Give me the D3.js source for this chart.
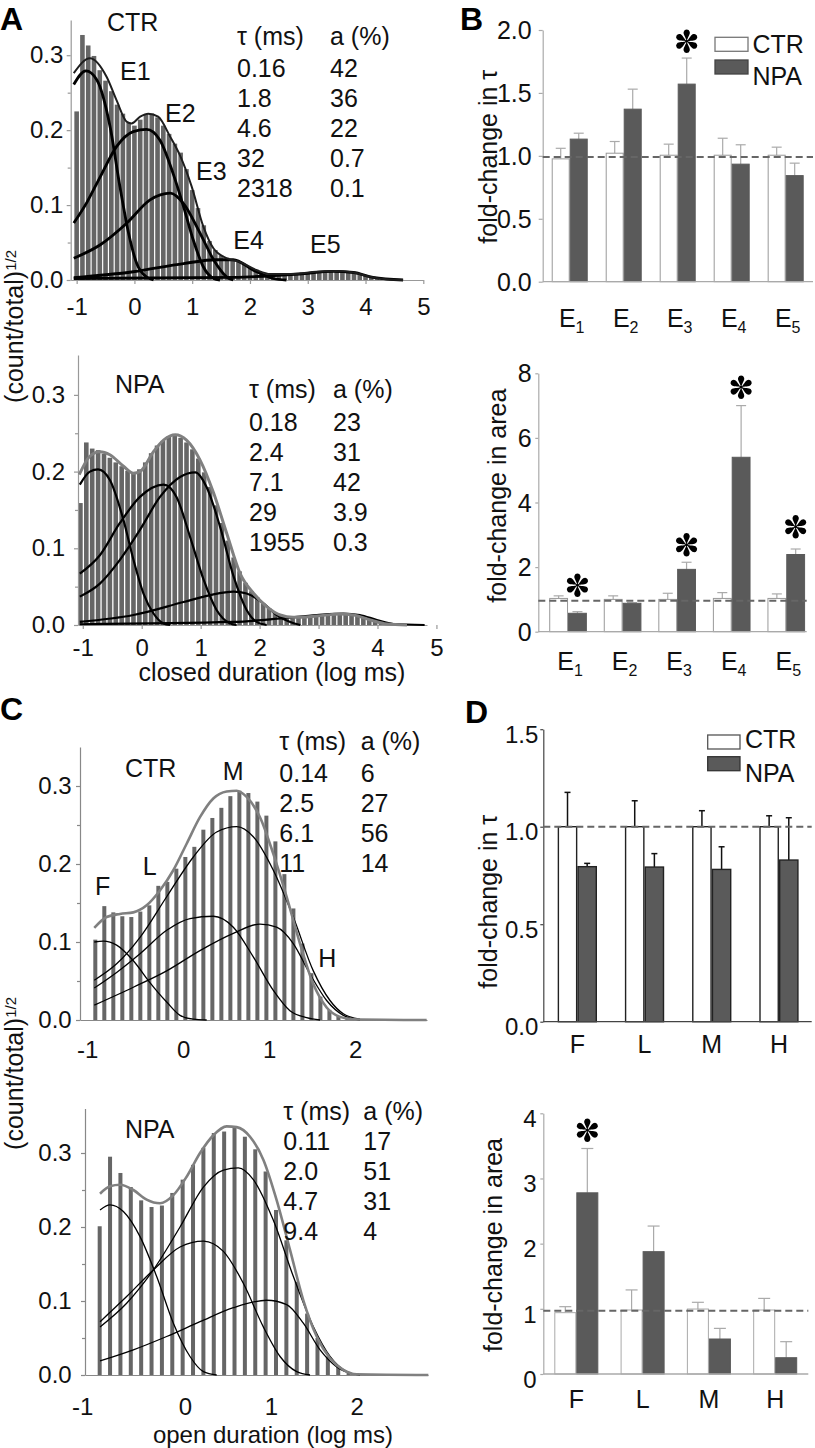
<!DOCTYPE html>
<html><head><meta charset="utf-8">
<script src="https://cdn.jsdelivr.net/npm/d3@7/dist/d3.min.js"></script>
<style>
html,body{margin:0;padding:0;background:#fff;}
svg{display:block;}
svg text{font-family:"Liberation Sans",Arial,Helvetica,sans-serif;fill:#111;}
</style></head>
<body><svg id="fig" width="815" height="1448" viewBox="0 0 815 1448"></svg>
<script>
// ======================= DATA =======================
// ---- Panel A: closed-duration histograms, sqrt(count/total) per bin ----
const A_CTR_BIN_START = -1.0, A_CTR_BIN_WIDTH = 0.1;
const A_CTR_BARS = [0.225,0.327,0.313,0.299,0.280,0.266,0.252,0.234,0.222,0.210,
  0.206,0.214,0.221,0.222,0.217,0.206,0.195,0.182,0.170,0.148,
  0.120,0.096,0.073,0.052,0.040,0.033,0.030,0.028,0.025,0.021,
  0.017,0.013,0.010,0.008,0.007,0.007,0.008,0.008,0.009,0.010,
  0.010,0.011,0.011,0.012,0.012,0.012,0.011,0.011,0.009,0.008,
  0.006,0.004,0.003,0.002,0.001,0.001];
const A_CTR_TOTAL = [[-1.05,0.276],[-0.77,0.296],[-0.48,0.271],[-0.31,0.24],[-0.13,0.211],[-0.05,0.209],[0.1,0.218],[0.24,0.222],[0.41,0.218],[0.62,0.191],[0.79,0.166],[0.99,0.125],[1.19,0.072],[1.37,0.042],[1.6,0.029],[1.83,0.024],[2.12,0.013],[2.35,0.008],[2.75,0.008],[3.15,0.011],[3.5,0.012],[3.79,0.01],[4.07,0.0045],[4.36,0.001],[4.65,0]];
const A_CTR_E1 = [[-1.05,0.261],[-0.84,0.279],[-0.65,0.267],[-0.42,0.204],[-0.25,0.124],[-0.10,0.062],[0.04,0.022],[0.21,0.004],[0.33,0]];
const A_CTR_E2 = [[-1.05,0.076],[-0.82,0.104],[-0.59,0.138],[-0.31,0.178],[-0.02,0.198],[0.21,0.201],[0.44,0.187],[0.67,0.142],[0.85,0.098],[1.02,0.053],[1.19,0.018],[1.37,0.002],[1.48,0]];
const A_CTR_E3 = [[-1.05,0.029],[-0.59,0.047],[-0.13,0.076],[0.27,0.107],[0.62,0.116],[0.85,0.102],[1.14,0.062],[1.37,0.027],[1.6,0.004],[1.71,0]];
const A_CTR_E4 = [[-1.05,0.003],[-0.02,0.011],[0.85,0.022],[1.42,0.027],[1.71,0.027],[2.06,0.013],[2.4,0.002],[2.63,0]];
const A_CTR_E5 = [[-1.05,0.002],[1.71,0.0035],[2.86,0.008],[3.44,0.0115],[3.79,0.01],[4.13,0.0035],[4.65,0]];
const A_CTR_TAU = ["0.16","1.8","4.6","32","2318"];
const A_CTR_AREA = ["42","36","22","0.7","0.1"];

const A_NPA_BIN_START = -1.04, A_NPA_BIN_WIDTH = 0.1;
const A_NPA_BARS = [0.159,0.238,0.230,0.228,0.223,0.218,0.212,0.207,0.201,0.198,
  0.203,0.212,0.224,0.234,0.240,0.246,0.247,0.244,0.238,0.229,
  0.217,0.199,0.180,0.156,0.133,0.110,0.088,0.070,0.055,0.044,
  0.036,0.028,0.022,0.017,0.013,0.011,0.010,0.010,0.011,0.011,
  0.012,0.012,0.013,0.013,0.014,0.014,0.013,0.012,0.010,0.008,
  0.006,0.004,0.002,0.001];
const A_NPA_TOTAL = [[-1.06,0.196],[-0.88,0.22],[-0.71,0.226],[-0.54,0.222],[-0.31,0.207],[-0.14,0.198],[-0.03,0.2],[0.2,0.226],[0.37,0.241],[0.57,0.248],[0.76,0.241],[0.99,0.215],[1.22,0.172],[1.44,0.12],[1.67,0.067],[1.9,0.041],[2.12,0.024],[2.35,0.013],[2.57,0.01],[2.97,0.0117],[3.37,0.0143],[3.59,0.013],[3.88,0.0065],[4.16,0.0013],[4.5,0]];
const A_NPA_E1 = [[-1.05,0.183],[-0.88,0.2],[-0.74,0.203],[-0.54,0.189],[-0.31,0.137],[-0.14,0.085],[0.03,0.041],[0.2,0.015],[0.37,0.002],[0.48,0]];
const A_NPA_E2 = [[-1.05,0.067],[-0.71,0.091],[-0.37,0.133],[-0.03,0.167],[0.37,0.183],[0.59,0.167],[0.82,0.115],[1.05,0.059],[1.27,0.0196],[1.5,0.002],[1.61,0]];
const A_NPA_E3 = [[-1.05,0.037],[-0.71,0.054],[-0.37,0.085],[-0.03,0.124],[0.31,0.167],[0.65,0.193],[0.91,0.199],[1.1,0.18],[1.33,0.128],[1.56,0.063],[1.78,0.0196],[1.95,0.004],[2.12,0]];
const A_NPA_E4 = [[-1.05,0.004],[-0.14,0.013],[0.71,0.03],[1.16,0.039],[1.56,0.0435],[1.78,0.041],[2.07,0.028],[2.29,0.013],[2.52,0.004],[2.69,0]];
const A_NPA_E5 = [[-1.05,0.001],[1.56,0.004],[2.4,0.009],[2.97,0.013],[3.42,0.015],[3.7,0.013],[3.99,0.0065],[4.27,0.0013],[4.8,0]];
const A_NPA_TAU = ["0.18","2.4","7.1","29","1955"];
const A_NPA_AREA = ["23","31","42","3.9","0.3"];

// ---- Panel C: open-duration histograms ----
const C_CTR_BIN_START = -1.023, C_CTR_BIN_WIDTH = 0.1047;
const C_CTR_BARS = [0.103,0.146,0.138,0.133,0.132,0.139,0.147,0.172,0.177,0.194,
  0.209,0.222,0.244,0.259,0.272,0.287,0.294,0.291,0.280,0.262,
  0.229,0.187,0.143,0.098,0.060,0.030,0.013,0.005,0.002];
const C_CTR_TOTAL = [[-1.035,0.118],[-0.891,0.132],[-0.736,0.136],[-0.581,0.138],[-0.426,0.147],[-0.272,0.166],[-0.116,0.192],[0.039,0.226],[0.194,0.26],[0.349,0.284],[0.504,0.293],[0.621,0.294],[0.737,0.286],[0.892,0.26],[1.047,0.213],[1.202,0.158],[1.357,0.098],[1.512,0.046],[1.667,0.016],[1.822,0.004],[1.977,0.001],[2.83,0]];
const C_CTR_F = [[-1.035,0.1],[-0.93,0.101],[-0.775,0.096],[-0.581,0.076],[-0.388,0.048],[-0.193,0.023],[-0.038,0.006],[0.117,0.001],[0.272,0]];
const C_CTR_L = [[-1.035,0.041],[-0.775,0.061],[-0.503,0.085],[-0.193,0.115],[0.078,0.13],[0.349,0.133],[0.582,0.119],[0.814,0.081],[1.047,0.038],[1.24,0.012],[1.434,0.003],[1.59,0]];
const C_CTR_M = [[-1.035,0.051],[-0.775,0.072],[-0.503,0.106],[-0.193,0.158],[0.117,0.209],[0.388,0.241],[0.621,0.248],[0.814,0.235],[1.047,0.192],[1.279,0.132],[1.512,0.063],[1.706,0.025],[1.861,0.008],[2.055,0.001]];
const C_CTR_H = [[-1.035,0.019],[-0.581,0.042],[-0.193,0.063],[0.194,0.089],[0.582,0.111],[0.892,0.123],[1.085,0.119],[1.279,0.098],[1.473,0.059],[1.667,0.025],[1.861,0.006],[2.055,0]];
const C_CTR_TAU = ["0.14","2.5","6.1","11"];
const C_CTR_AREA = ["6","27","56","14"];

const C_NPA_BIN_START = -0.994, C_NPA_BIN_WIDTH = 0.1208;
const C_NPA_BARS = [0.201,0.295,0.273,0.254,0.236,0.227,0.229,0.246,0.264,0.284,
  0.307,0.327,0.329,0.336,0.322,0.305,0.275,0.223,0.182,0.126,
  0.083,0.050,0.025,0.011,0.0045];
const C_NPA_TOTAL = [[-0.99,0.245],[-0.874,0.255],[-0.757,0.257],[-0.602,0.25],[-0.447,0.237],[-0.291,0.232],[-0.136,0.243],[0.019,0.268],[0.175,0.3],[0.33,0.324],[0.485,0.336],[0.602,0.335],[0.757,0.322],[0.912,0.291],[1.068,0.236],[1.223,0.169],[1.378,0.101],[1.534,0.052],[1.689,0.0225],[1.844,0.007],[2.0,0.001],[2.834,0]];
const C_NPA_F = [[-0.99,0.223],[-0.874,0.23],[-0.718,0.221],[-0.524,0.187],[-0.33,0.133],[-0.136,0.07],[0.058,0.025],[0.214,0.0045],[0.369,0]];
const C_NPA_L = [[-0.99,0.072],[-0.68,0.106],[-0.369,0.142],[-0.058,0.173],[0.214,0.181],[0.447,0.167],[0.679,0.124],[0.912,0.065],[1.107,0.025],[1.301,0.0045],[1.456,0]];
const C_NPA_M = [[-0.99,0.065],[-0.68,0.097],[-0.369,0.142],[-0.058,0.2],[0.214,0.254],[0.447,0.277],[0.621,0.28],[0.796,0.264],[1.029,0.209],[1.262,0.133],[1.495,0.065],[1.689,0.025],[1.883,0.0045],[2.038,0]];
const C_NPA_H = [[-0.99,0.019],[-0.602,0.034],[-0.214,0.052],[0.175,0.072],[0.563,0.091],[0.951,0.101],[1.184,0.095],[1.378,0.07],[1.573,0.034],[1.767,0.011],[1.961,0.001]];
const C_NPA_TAU = ["0.11","2.0","4.7","9.4"];
const C_NPA_AREA = ["17","51","31","4"];

// ---- Panel B: fold changes of closed components ----
const GROUPS = ["CTR","NPA"];
const B_CATS = ["1","2","3","4","5"];               // E subscripts
const B_TAU_CTR     = [0.976,1.021,1.005,1.005,1.005];
const B_TAU_CTR_ERR = [0.084,0.093,0.088,0.135,0.064];
const B_TAU_NPA     = [1.133,1.371,1.570,0.934,0.843];
const B_TAU_NPA_ERR = [0.047,0.159,0.207,0.154,0.099];
const B_TAU_REF = 0.99;
const B_TAU_STARS = [["3",1.91]];
const B_TAU_TICKS = [0,0.5,1.0,1.5,2.0];

const B_AREA_CTR     = [1.03,1.00,1.00,1.03,1.03];
const B_AREA_CTR_ERR = [0.08,0.11,0.19,0.18,0.14];
const B_AREA_NPA     = [0.57,0.88,1.93,5.40,2.39];
const B_AREA_NPA_ERR = [0.05,0.02,0.22,1.60,0.17];
const B_AREA_REF = 0.96;
const B_AREA_STARS = [["1",1.44],["3",2.69],["4",7.57],["5",3.25]];
const B_AREA_TICKS = [0,2,4,6,8];

// ---- Panel D: fold changes of open components ----
const D_CATS = ["F","L","M","H"];
const D_TAU_CTR     = [1.0,1.0,1.0,1.0];
const D_TAU_CTR_ERR = [0.176,0.133,0.082,0.056];
const D_TAU_NPA     = [0.795,0.793,0.781,0.829];
const D_TAU_NPA_ERR = [0.017,0.069,0.116,0.217];
const D_TAU_REF = 1.0;
const D_TAU_TICKS = [0,0.5,1.0,1.5];

const D_AREA_CTR     = [0.941,0.982,0.997,0.982];
const D_AREA_CTR_ERR = [0.092,0.308,0.103,0.178];
const D_AREA_NPA     = [2.78,1.877,0.537,0.25];
const D_AREA_NPA_ERR = [0.68,0.393,0.163,0.246];
const D_AREA_REF = 0.972;
const D_AREA_STARS = [["F",3.74]];
const D_AREA_TICKS = [0,1,2,3,4];

// ======================= DRAWING =======================
const svg = d3.select("#fig");
const DARK = "#5a5a5a";

function txt(g, x, y, s, o = {}) {
  const t = g.append("text").attr("x", x).attr("y", y)
    .attr("font-size", o.size || 25).attr("text-anchor", o.anchor || "start").text(s);
  if (o.weight) t.attr("font-weight", o.weight);
  return t;
}

function styleAxis(sel, color, size) {
  sel.attr("font-family", null).attr("font-size", null);
  sel.select(".domain").attr("stroke", color).attr("stroke-width", 1.2);
  sel.selectAll(".tick line").attr("stroke", color).attr("stroke-width", 1.2);
  sel.selectAll(".tick text").attr("font-size", size).attr("fill", "#111");
}

function star(g, cx, cy, r) {
  const p = `M0,0 C${-r*0.06},${-r*0.3} ${-r*0.36},${-r*0.66} ${-r*0.27},${-r*0.86} A${r*0.28},${r*0.28} 0 0 1 ${r*0.27},${-r*0.86} C${r*0.36},${-r*0.66} ${r*0.06},${-r*0.3} 0,0Z`;
  d3.range(6).forEach(i => g.append("path").attr("d", p).attr("fill", "#000")
    .attr("transform", `translate(${cx},${cy}) rotate(${i * 60})`));
  g.append("circle").attr("cx", cx).attr("cy", cy).attr("r", r * 0.13).attr("fill", "#000");
}

function histPanel(p) {
  const x = d3.scaleLinear().domain(p.xDomain).range(p.xRange);
  const y = d3.scaleLinear().domain(p.yDomain).range(p.yRange);
  const g = svg.append("g");
  g.selectAll("rect.bin").data(p.bars).join("rect").attr("class", "bin")
    .attr("x", (d, i) => x(p.binStart + i * p.binWidth) - p.barW / 2)
    .attr("width", p.barW)
    .attr("y", d => y(d)).attr("height", d => y(0) - y(d))
    .attr("fill", p.barColor);
  const ya = g.append("g").attr("transform", `translate(${p.xRange[0]},0)`)
    .call(d3.axisLeft(y).tickValues([0, 0.1, 0.2, 0.3]).tickFormat(d3.format(".1f"))
      .tickSize(4).tickPadding(p.yPad).tickSizeOuter(0));
  styleAxis(ya, p.axisColor, 24);
  const ym = g.append("g").attr("transform", `translate(${p.xRange[0]},0)`)
    .call(d3.axisLeft(y).tickValues([0.05, 0.15, 0.25]).tickFormat("").tickSize(3).tickSizeOuter(0));
  styleAxis(ym, p.axisColor, 24);
  ym.select(".domain").remove();
  const xa = g.append("g").attr("transform", `translate(0,${y(0)})`)
    .call(d3.axisBottom(x).tickValues(p.xTicks).tickFormat(d3.format("d")).tickSize(p.xTickLen).tickSizeOuter(0));
  styleAxis(xa, p.axisColor, 24);
  xa.selectAll(".tick text").attr("y", p.xLabOff).attr("dy", 0)
    .attr("dx", d => d === -1 ? p.minusDx : 0).text(d => d < 0 ? "-" + Math.abs(d) : d);
  const line = d3.line().x(d => x(d[0])).y(d => y(d[1])).curve(d3.curveMonotoneX);
  p.comps.forEach(c => g.append("path").attr("d", line(c)).attr("fill", "none")
    .attr("stroke", p.compColor).attr("stroke-width", p.compW).attr("stroke-linejoin", "round"));
  g.append("path").attr("d", line(p.total)).attr("fill", "none")
    .attr("stroke", p.totalColor).attr("stroke-width", p.totalW);
  return g;
}

function table(g, xs, y0, rows, tau, area) {
  txt(g, xs[0], y0, "τ (ms)");
  txt(g, xs[1], y0, "a (%)");
  tau.forEach((t, i) => { txt(g, xs[0], rows[i], t); txt(g, xs[1], rows[i], area[i]); });
}

function barPanel(p) {
  const x0 = d3.scaleBand().domain(p.cats).range(p.xRange).paddingInner(p.padIn).paddingOuter(p.padOut);
  const x1 = d3.scaleBand().domain(GROUPS).range([0, x0.bandwidth()]);
  const y = d3.scaleLinear().domain(p.yDomain).range(p.yRange);
  const g = svg.append("g");
  const rows = [];
  p.cats.forEach((c, i) => {
    rows.push({ c, s: "CTR", v: p.ctr[i], e: p.ctrErr[i] });
    rows.push({ c, s: "NPA", v: p.npa[i], e: p.npaErr[i] });
  });
  const cx = d => x0(d.c) + x1(d.s) + x1.bandwidth() / 2;
  g.selectAll("line.err").data(rows).join("line").attr("class", "err")
    .attr("x1", cx).attr("x2", cx).attr("y1", d => y(d.v)).attr("y2", d => y(d.v + d.e))
    .attr("stroke", p.errColor).attr("stroke-width", p.errW);
  g.selectAll("line.cap").data(rows).join("line").attr("class", "cap")
    .attr("x1", d => cx(d) - p.cap).attr("x2", d => cx(d) + p.cap)
    .attr("y1", d => y(d.v + d.e)).attr("y2", d => y(d.v + d.e))
    .attr("stroke", p.errColor).attr("stroke-width", p.errW);
  g.selectAll("rect.bar").data(rows).join("rect").attr("class", "bar")
    .attr("x", d => x0(d.c) + x1(d.s) + p.inset).attr("width", x1.bandwidth() - 2 * p.inset)
    .attr("y", d => y(d.v)).attr("height", d => y(0) - y(d.v))
    .attr("fill", d => d.s === "CTR" ? "#fff" : DARK)
    .attr("stroke", d => d.s === "CTR" ? p.ctrStroke : p.npaStroke)
    .attr("stroke-width", p.barSW);
  const ya = g.append("g").attr("transform", `translate(${p.axisX[0]},0)`)
    .call(d3.axisLeft(y).tickValues(p.ticks).tickFormat(d3.format(p.fmt))
      .tickSize(p.tickLen).tickPadding(p.yPad).tickSizeOuter(0));
  styleAxis(ya, p.axisColor, p.tickFont);
  ya.selectAll(".tick text").attr("dy", p.labDy);
  g.append("line").attr("x1", p.axisX[0]).attr("x2", p.axisX[1]).attr("y1", y(0)).attr("y2", y(0))
    .attr("stroke", p.axisColor).attr("stroke-width", 1.3);
  g.append("line").attr("x1", p.axisX[0]).attr("x2", p.axisX[1]).attr("y1", y(p.ref)).attr("y2", y(p.ref))
    .attr("stroke", "#666").attr("stroke-width", 2).attr("stroke-dasharray", "7,4");
  p.cats.forEach(c => {
    const t = g.append("text").attr("x", x0(c) + x0.bandwidth() / 2 + (p.sub ? 2 : 0)).attr("y", p.catY)
      .attr("text-anchor", "middle").attr("font-size", 25);
    if (p.sub) { t.append("tspan").text("E"); t.append("tspan").attr("dy", 6).attr("font-size", 16).text(c); }
    else t.text(c);
  });
  (p.stars || []).forEach(([c, v]) => star(g, x0(c) + x1("NPA") + x1.bandwidth() / 2, y(v), 11));
  g.append("text").attr("transform", `translate(${p.titleX},${p.titleY}) rotate(-90)`)
    .attr("text-anchor", "middle").attr("font-size", 25).text(p.title);
  return g;
}

function legend(g, x, yC, yN, w, h, tx, tyC, tyN, ctrStroke, npaStroke) {
  g.append("rect").attr("x", x).attr("y", yC).attr("width", w).attr("height", h)
    .attr("fill", "#fff").attr("stroke", ctrStroke).attr("stroke-width", 1.3);
  g.append("rect").attr("x", x).attr("y", yN).attr("width", w).attr("height", h)
    .attr("fill", DARK).attr("stroke", npaStroke).attr("stroke-width", 1.3);
  txt(g, tx, tyC, GROUPS[0]);
  txt(g, tx, tyN, GROUPS[1]);
}

// ---- Panel A top (CTR) ----
const gA1 = histPanel({
  xDomain: [-1.103, 5.0], xRange: [70.7, 423.3], yDomain: [0, 0.347], yRange: [280, 20],
  bars: A_CTR_BARS, binStart: A_CTR_BIN_START, binWidth: A_CTR_BIN_WIDTH, barW: 4.6, barColor: "#666",
  axisColor: "#999", yPad: 3.4, xTicks: [-1, 0, 1, 2, 3, 4, 5], xTickLen: 4, xLabOff: 35, minusDx: 0,
  comps: [A_CTR_E1, A_CTR_E2, A_CTR_E3, A_CTR_E4, A_CTR_E5], compColor: "#000", compW: 2.8,
  total: A_CTR_TOTAL, totalColor: "#1e1e1e", totalW: 2
});
txt(gA1, 107, 30.7, "CTR");
txt(gA1, 120, 80, "E1"); txt(gA1, 165, 121.7, "E2"); txt(gA1, 196, 180, "E3");
txt(gA1, 233.3, 249.3, "E4"); txt(gA1, 310, 252.7, "E5");
table(gA1, [237, 330], 45, [76.7, 106.7, 136.7, 166.7, 196.7], A_CTR_TAU, A_CTR_AREA);

// ---- Panel A bottom (NPA) ----
const gA2 = histPanel({
  xDomain: [-1.081, 4.84], xRange: [78, 427], yDomain: [0, 0.352], yRange: [625, 355],
  bars: A_NPA_BARS, binStart: A_NPA_BIN_START, binWidth: A_NPA_BIN_WIDTH, barW: 4.6, barColor: "#666",
  axisColor: "#999", yPad: 9, xTicks: [-1, 0, 1, 2, 3, 4, 5], xTickLen: 4, xLabOff: 30.5, minusDx: 0,
  comps: [A_NPA_E1, A_NPA_E2, A_NPA_E3, A_NPA_E4, A_NPA_E5], compColor: "#000", compW: 2.2,
  total: A_NPA_TOTAL, totalColor: "#808080", totalW: 3
});
txt(gA2, 115, 393.3, "NPA");
table(gA2, [249, 333], 398, [431, 461, 491, 521, 551], A_NPA_TAU, A_NPA_AREA);
txt(gA2, 272, 681, "closed duration (log ms)", { anchor: "middle" });

// ---- Panel C top (CTR) ----
const gC1 = histPanel({
  xDomain: [-1.201, 2.834], xRange: [80, 427], yDomain: [0, 0.35], yRange: [1020, 747],
  bars: C_CTR_BARS, binStart: C_CTR_BIN_START, binWidth: C_CTR_BIN_WIDTH, barW: 4, barColor: "#666",
  axisColor: "#888", yPad: 4.3, xTicks: [-1, 0, 1, 2], xTickLen: 0, xLabOff: 38, minusDx: -10,
  comps: [C_CTR_F, C_CTR_L, C_CTR_M, C_CTR_H], compColor: "#000", compW: 1.3,
  total: C_CTR_TOTAL, totalColor: "#808080", totalW: 2.6
});
txt(gC1, 125, 777, "CTR");
txt(gC1, 222.7, 780, "M"); txt(gC1, 142.7, 875, "L"); txt(gC1, 95, 895, "F"); txt(gC1, 318.3, 966.7, "H");
table(gC1, [279.3, 360.7], 750, [781.7, 811.7, 841.7, 871.7], C_CTR_TAU, C_CTR_AREA);

// ---- Panel C bottom (NPA) ----
const gC2 = histPanel({
  xDomain: [-1.165, 2.83], xRange: [85, 428], yDomain: [0, 0.36], yRange: [1375, 1108.6],
  bars: C_NPA_BARS, binStart: C_NPA_BIN_START, binWidth: C_NPA_BIN_WIDTH, barW: 4, barColor: "#666",
  axisColor: "#888", yPad: 9.3, xTicks: [-1, 0, 1, 2], xTickLen: 0, xLabOff: 40, minusDx: -17,
  comps: [C_NPA_F, C_NPA_L, C_NPA_M, C_NPA_H], compColor: "#000", compW: 1.3,
  total: C_NPA_TOTAL, totalColor: "#808080", totalW: 2.6
});
txt(gC2, 125, 1138.3, "NPA");
table(gC2, [283.3, 363.3], 1120, [1150, 1180, 1210, 1240], C_NPA_TAU, C_NPA_AREA);
txt(gC2, 273, 1443, "open duration (log ms)", { anchor: "middle", size: 24 });

// shared y titles for A and C
[[23, 250], [23, 997]].forEach(([xb, yEnd]) => {
  const t = svg.append("text").attr("transform", `translate(${xb},${yEnd}) rotate(-90)`)
    .attr("text-anchor", "end").attr("font-size", 25);
  t.append("tspan").text("(count/total)");
  t.append("tspan").attr("dy", -7).attr("font-size", 15).text("1/2");
});

// ---- Panel B top (tau) ----
const gB1 = barPanel({
  cats: B_CATS, xRange: [542.7, 812.7], padIn: 0.333, padOut: 0.167, yDomain: [0, 2.0], yRange: [281.7, 30],
  ctr: B_TAU_CTR, ctrErr: B_TAU_CTR_ERR, npa: B_TAU_NPA, npaErr: B_TAU_NPA_ERR, ref: B_TAU_REF,
  ticks: B_TAU_TICKS, fmt: ".1f", tickLen: 4, yPad: 7, tickFont: 25, labDy: "0.34em",
  axisX: [542.7, 813], axisColor: "#aaa", errColor: "#aaa", errW: 1.2, cap: 5, inset: 0.5,
  ctrStroke: "#999", npaStroke: DARK, barSW: 1, sub: true, catY: 327, stars: B_TAU_STARS,
  title: "fold-change in τ", titleX: 496.5, titleY: 156.7
});
legend(gB1, 715, 37.3, 60, 33, 14, 752.5, 53.3, 85, "#777", "#444");

// ---- Panel B bottom (area) ----
barPanel({
  cats: B_CATS, xRange: [538.3, 816], padIn: 0.31, padOut: 0.2, yDomain: [0, 8], yRange: [631.7, 373.3],
  ctr: B_AREA_CTR, ctrErr: B_AREA_CTR_ERR, npa: B_AREA_NPA, npaErr: B_AREA_NPA_ERR, ref: B_AREA_REF,
  ticks: B_AREA_TICKS, fmt: "d", tickLen: 3, yPad: 3.6, tickFont: 25, labDy: "0.34em",
  axisX: [538.3, 806.7], axisColor: "#aaa", errColor: "#aaa", errW: 1.2, cap: 5, inset: 0.5,
  ctrStroke: "#999", npaStroke: DARK, barSW: 1, sub: true, catY: 670, stars: B_AREA_STARS,
  title: "fold-change in area", titleX: 506, titleY: 495.7
});

// ---- Panel D top (tau) ----
const gD1 = barPanel({
  cats: D_CATS, xRange: [543.3, 813], padIn: 0.415, padOut: 0.214, yDomain: [0, 1.5], yRange: [1021.7, 729.2],
  ctr: D_TAU_CTR, ctrErr: D_TAU_CTR_ERR, npa: D_TAU_NPA, npaErr: D_TAU_NPA_ERR, ref: D_TAU_REF,
  ticks: D_TAU_TICKS, fmt: ".1f", tickLen: 3, yPad: 2, tickFont: 24, labDy: "0.55em",
  axisX: [543.3, 811.7], axisColor: "#444", errColor: "#111", errW: 1.5, cap: 3, inset: 0.7,
  ctrStroke: "#222", npaStroke: "#222", barSW: 1.4, sub: false, catY: 1053, stars: [],
  title: "fold-change in τ", titleX: 496.7, titleY: 901.7
});
legend(gD1, 707.7, 735, 756.7, 32.3, 14, 745, 748, 781.7, "#555", "#333");

// ---- Panel D bottom (area) ----
barPanel({
  cats: D_CATS, xRange: [543.3, 808.2], padIn: 0.336, padOut: 0.166, yDomain: [0, 4], yRange: [1374, 1113.3],
  ctr: D_AREA_CTR, ctrErr: D_AREA_CTR_ERR, npa: D_AREA_NPA, npaErr: D_AREA_NPA_ERR, ref: D_AREA_REF,
  ticks: D_AREA_TICKS, fmt: "d", tickLen: 3, yPad: 3.6, tickFont: 24, labDy: "0.55em",
  axisX: [543.3, 808.3], axisColor: "#aaa", errColor: "#aaa", errW: 1.2, cap: 6, inset: 0.5,
  ctrStroke: "#aaa", npaStroke: DARK, barSW: 1, sub: false, catY: 1408, stars: D_AREA_STARS,
  title: "fold-change in area", titleX: 501.7, titleY: 1245
});

// ---- panel letters ----
[["A", 0, 30], ["B", 460, 30], ["C", 0, 720], ["D", 465, 723]].forEach(([s, x, y]) =>
  txt(svg, x, y, s, { size: 32, weight: "bold" }).style("fill", "#000"));
</script>
</body></html>
